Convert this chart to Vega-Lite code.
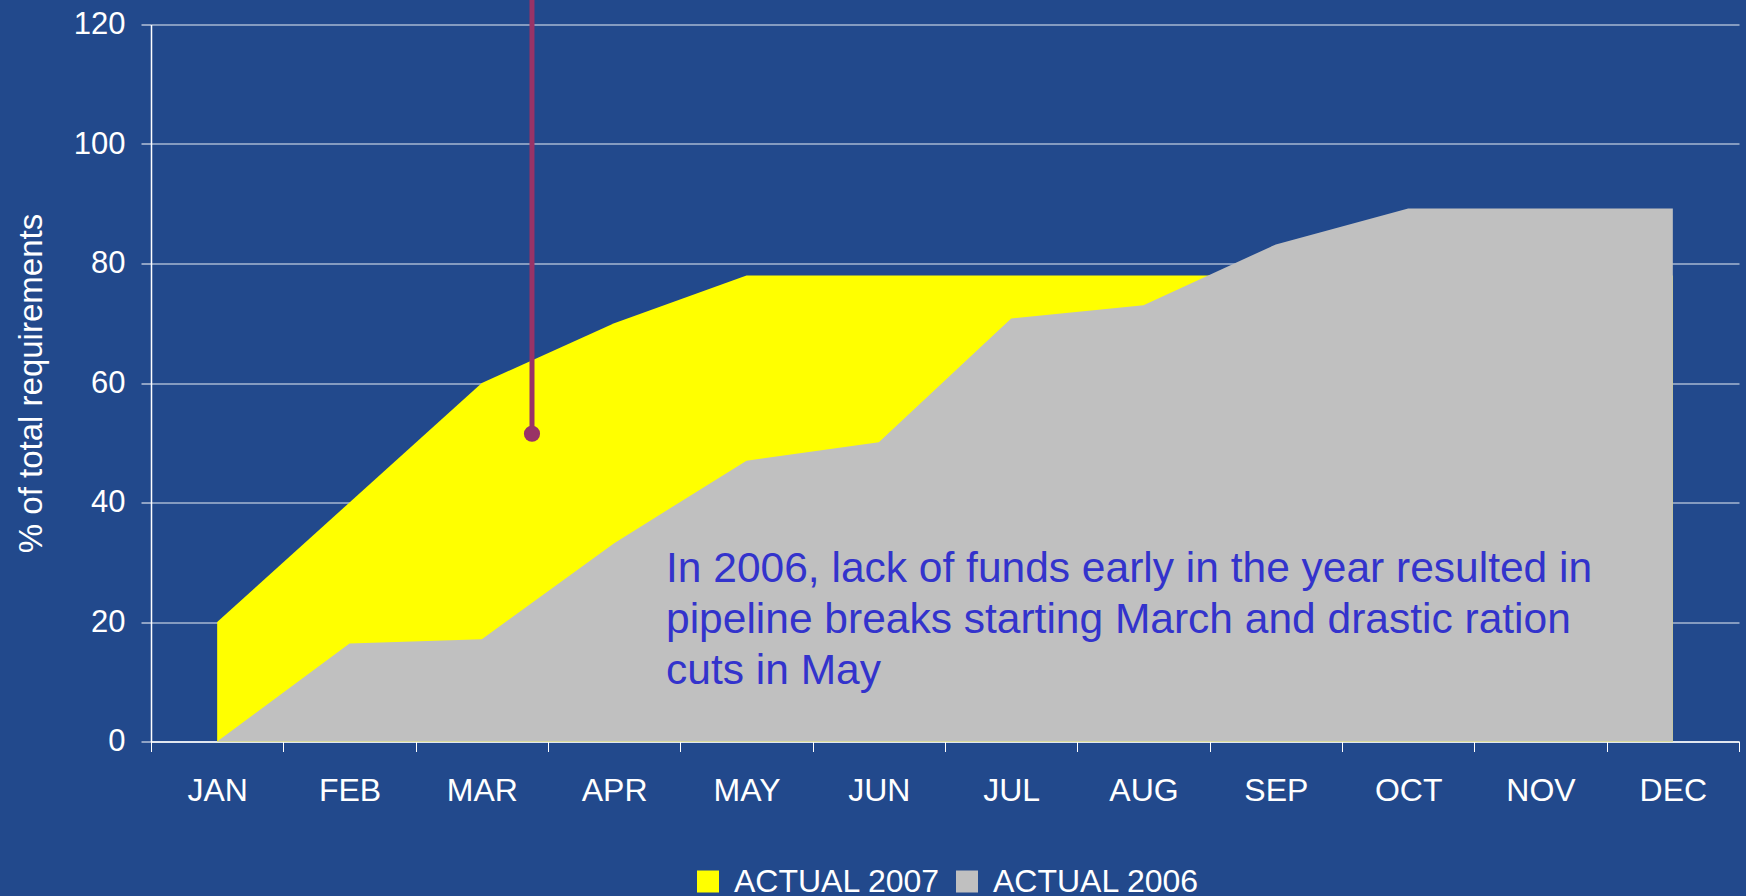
{
  "$schema": "https://vega.github.io/schema/vega-lite/v6.json",
  "autosize": {"type": "none"},
  "width": 1588,
  "height": 717,
  "padding": {"left": 151, "top": 24.5, "right": 7, "bottom": 154.5},
  "background": "#22498C",
  "config": {
    "view": {"stroke": null},
    "font": "Liberation Sans",
    "axis": {"labelFont": "Liberation Sans", "titleFont": "Liberation Sans"},
    "legend": {"labelFont": "Liberation Sans"}
  },
  "datasets": {
    "series": [
      {"month": 1, "series": "ACTUAL 2007", "value": 20},
      {"month": 2, "series": "ACTUAL 2007", "value": 40},
      {"month": 3, "series": "ACTUAL 2007", "value": 60},
      {"month": 4, "series": "ACTUAL 2007", "value": 70},
      {"month": 5, "series": "ACTUAL 2007", "value": 78},
      {"month": 6, "series": "ACTUAL 2007", "value": 78},
      {"month": 7, "series": "ACTUAL 2007", "value": 78},
      {"month": 8, "series": "ACTUAL 2007", "value": 78},
      {"month": 9, "series": "ACTUAL 2007", "value": 78},
      {"month": 10, "series": "ACTUAL 2007", "value": 78},
      {"month": 11, "series": "ACTUAL 2007", "value": 78},
      {"month": 12, "series": "ACTUAL 2007", "value": 78},
      {"month": 1, "series": "ACTUAL 2006", "value": 0},
      {"month": 2, "series": "ACTUAL 2006", "value": 16.4},
      {"month": 3, "series": "ACTUAL 2006", "value": 17.1},
      {"month": 4, "series": "ACTUAL 2006", "value": 33.2},
      {"month": 5, "series": "ACTUAL 2006", "value": 47},
      {"month": 6, "series": "ACTUAL 2006", "value": 50.1},
      {"month": 7, "series": "ACTUAL 2006", "value": 70.8},
      {"month": 8, "series": "ACTUAL 2006", "value": 73},
      {"month": 9, "series": "ACTUAL 2006", "value": 83.2},
      {"month": 10, "series": "ACTUAL 2006", "value": 89.2},
      {"month": 11, "series": "ACTUAL 2006", "value": 89.2},
      {"month": 12, "series": "ACTUAL 2006", "value": 89.2}
    ],
    "marker": [{"month": 3.379, "value": 51.5, "top": 125}],
    "note": [{"month": 4.392, "value": 26.7, "text": ["In 2006, lack of funds early in the year resulted in", "pipeline breaks starting March and drastic ration", "cuts in May"]}]
  },
  "layer": [
    {
      "data": {"name": "series"},
      "transform": [{"filter": "datum.series === 'ACTUAL 2007'"}],
      "mark": {"type": "area", "opacity": 1},
      "encoding": {
        "x": {
          "field": "month", "type": "quantitative",
          "scale": {"domain": [0.5, 12.5], "nice": false, "zero": false},
          "axis": {
            "values": [0.5, 1, 1.5, 2, 2.5, 3, 3.5, 4, 4.5, 5, 5.5, 6, 6.5, 7, 7.5, 8, 8.5, 9, 9.5, 10, 10.5, 11, 11.5, 12, 12.5],
            "title": null,
            "grid": false,
            "domainColor": "#FFFFFF",
            "domainWidth": 1.5,
            "tickColor": "#FFFFFF",
            "tickSize": 10,
            "tickWidth": 1,
            "tickOpacity": {"expr": "datum.value % 1 === 0 ? 0 : 1"},
            "labelExpr": "datum.value % 1 === 0 ? ['JAN','FEB','MAR','APR','MAY','JUN','JUL','AUG','SEP','OCT','NOV','DEC'][datum.value - 1] : ''",
            "labelOverlap": false,
            "labelFlush": false,
            "labelBound": false,
            "labelColor": "#FFFFFF",
            "labelFontSize": 32,
            "labelBaseline": "middle",
            "labelPadding": 39
          }
        },
        "y": {
          "field": "value", "type": "quantitative", "stack": null,
          "scale": {"domain": [0, 120], "nice": false},
          "axis": {
            "values": [0, 20, 40, 60, 80, 100, 120],
            "title": "% of total requirements",
            "titleColor": "#FFFFFF",
            "titleFontSize": 33,
            "titleFontWeight": "normal",
            "titlePadding": 25,
            "grid": true,
            "gridColor": "#FFFFFF",
            "gridWidth": 1,
            "gridOpacity": 0.9,
            "domainColor": "#FFFFFF",
            "domainWidth": 1.5,
            "tickColor": "#FFFFFF",
            "tickSize": 10,
            "labelColor": "#FFFFFF",
            "labelFontSize": 31,
            "labelPadding": 16
          }
        },
        "color": {
          "field": "series", "type": "nominal",
          "scale": {"domain": ["ACTUAL 2007", "ACTUAL 2006"], "range": ["#FFFF00", "#C0C0C0"]},
          "legend": {
            "orient": "none",
            "legendX": 541,
            "legendY": 841,
            "direction": "horizontal",
            "title": null,
            "padding": 0,
            "symbolType": "square",
            "symbolSize": 484,
            "symbolStrokeWidth": 0,
            "symbolOpacity": 1,
            "labelFontSize": 32,
            "labelLimit": 0,
            "labelColor": "#FFFFFF",
            "labelOffset": 10,
            "columnPadding": 10
          }
        }
      }
    },
    {
      "data": {"name": "series"},
      "transform": [{"filter": "datum.series === 'ACTUAL 2006'"}],
      "mark": {"type": "area", "opacity": 1},
      "encoding": {
        "x": {"field": "month", "type": "quantitative"},
        "y": {"field": "value", "type": "quantitative", "stack": null},
        "color": {"field": "series", "type": "nominal"}
      }
    },
    {
      "data": {"name": "marker"},
      "mark": {"type": "rule", "color": "#993366", "strokeWidth": 5},
      "encoding": {
        "x": {"field": "month", "type": "quantitative"},
        "y": {"field": "value", "type": "quantitative"},
        "y2": {"field": "top"}
      }
    },
    {
      "data": {"name": "marker"},
      "mark": {"type": "point", "filled": true, "color": "#993366", "size": 260, "opacity": 1},
      "encoding": {
        "x": {"field": "month", "type": "quantitative"},
        "y": {"field": "value", "type": "quantitative"}
      }
    },
    {
      "data": {"name": "note"},
      "mark": {"type": "text", "align": "left", "baseline": "alphabetic", "fontSize": 42.5, "lineHeight": 51, "color": "#3333CC", "font": "Liberation Sans"},
      "encoding": {
        "x": {"field": "month", "type": "quantitative"},
        "y": {"field": "value", "type": "quantitative"},
        "text": {"field": "text"}
      }
    }
  ]
}
